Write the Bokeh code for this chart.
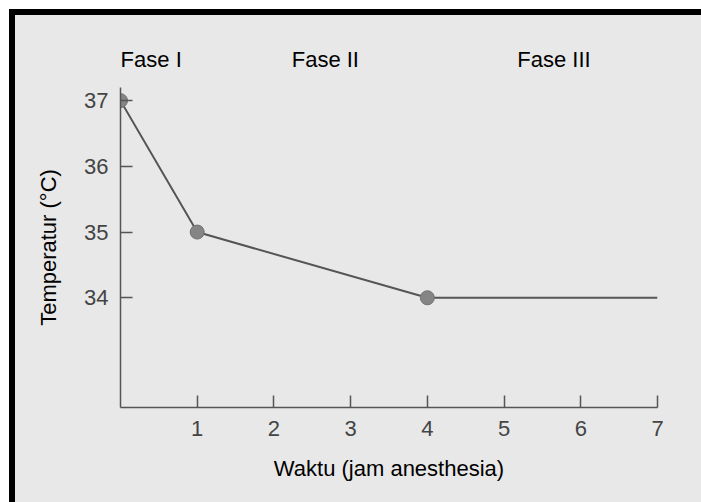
from bokeh.plotting import figure
from bokeh.models import Range1d, FixedTicker, LinearAxis, Spacer
from bokeh.layouts import row, column
from bokeh.embed import file_html
from bokeh.resources import INLINE

# data
hours = [0, 1, 4, 7]
temps = [37, 35, 34, 34]
marker_hours = [0, 1, 4]
marker_temps = [37, 35, 34]
x_ticks = [1, 2, 3, 4, 5, 6, 7]
y_ticks = [34, 35, 36, 37]
phase_names = ["Fase I", "Fase II", "Fase III"]
phase_centers = [0.4, 2.67, 5.65]

BG = "#e8e8e8"
FONT = "Liberation Sans"
FS = "22px"

p = figure(width=686, height=487, output_backend="svg", toolbar_location=None,
           x_range=Range1d(0, 7), y_range=Range1d(32.33, 37.2),
           min_border_left=105, min_border_right=44, min_border_top=72, min_border_bottom=95,
           background_fill_color=BG, border_fill_color=BG)
p.outline_line_color = None
p.grid.visible = False

for ax in (p.xaxis[0], p.yaxis[0]):
    ax.axis_line_color = "#555555"
    ax.axis_line_width = 1.5
    ax.major_tick_line_color = "#555555"
    ax.major_tick_line_width = 1.5
    ax.major_tick_in = 12
    ax.major_tick_out = 0
    ax.minor_tick_line_color = None
    ax.major_label_text_font = FONT
    ax.major_label_text_font_size = FS
    ax.major_label_text_color = "#444444"
    ax.axis_label_text_font = FONT
    ax.axis_label_text_font_size = FS
    ax.axis_label_text_font_style = "normal"
    ax.axis_label_text_color = "#000000"

p.xaxis.ticker = FixedTicker(ticks=x_ticks)
p.yaxis.ticker = FixedTicker(ticks=y_ticks)
p.xaxis.major_label_standoff = 13
p.yaxis.major_label_standoff = 12
p.xaxis.axis_label = "Waktu (jam anesthesia)"
p.yaxis.axis_label = "Temperatur (°C)"
p.xaxis.axis_label_standoff = 17
p.yaxis.axis_label_standoff = 20

# phase labels along the top
top = LinearAxis(ticker=FixedTicker(ticks=phase_centers),
                 major_label_overrides={c: n for c, n in zip(phase_centers, phase_names)})
top.axis_line_color = None
top.major_tick_line_color = None
top.minor_tick_line_color = None
top.major_label_standoff = 10
top.major_label_text_font = FONT
top.major_label_text_font_size = FS
top.major_label_text_color = "#000000"
p.add_layout(top, "above")

p.line(hours, temps, line_color="#555555", line_width=2)
p.scatter(marker_hours, marker_temps, size=14, fill_color="#858585", line_color="#707070")


def bar(w, h):
    return Spacer(width=w, height=h, styles={"background-color": "#000000"})


inner = row(bar(6, 487), p, styles={"background-color": BG})

page = column(
    Spacer(width=701, height=9),
    row(Spacer(width=9, height=493),
        column(bar(692, 6), inner)),
)

open("out.html", "w").write(file_html(page, INLINE))
